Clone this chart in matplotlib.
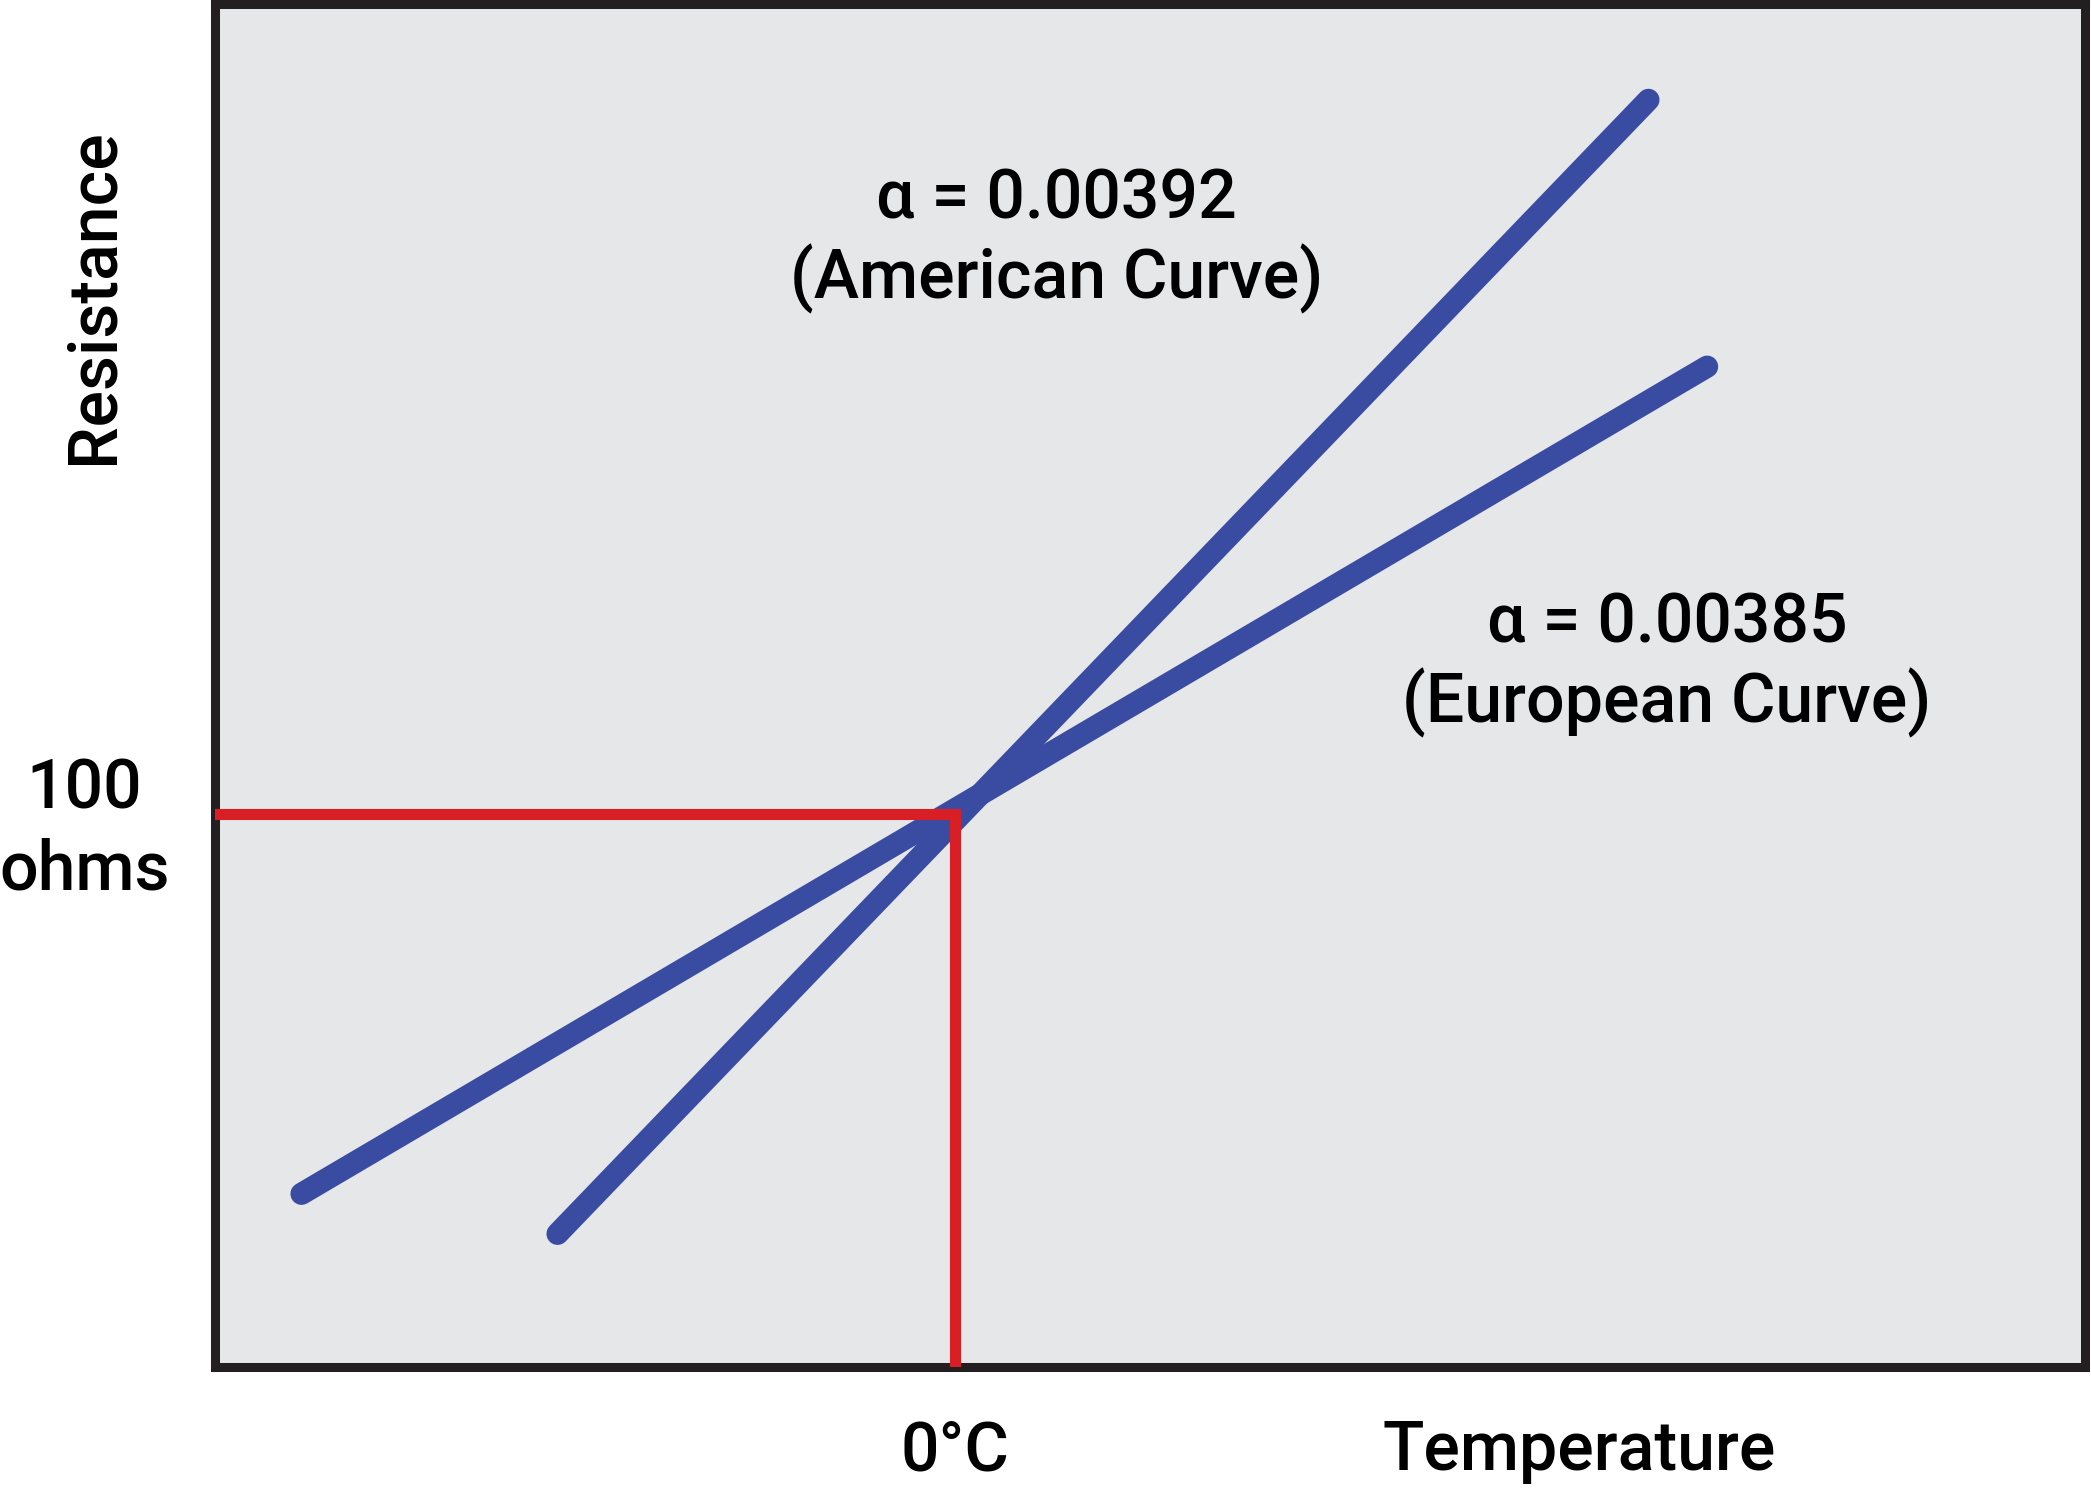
import matplotlib.pyplot as plt
from matplotlib.transforms import blended_transform_factory

# schematic RTD curves (temperature in arbitrary deg C units, resistance in ohms)
temp_american = [-149, 260]
res_american = [37, 207]
temp_european = [-245, 282]
res_european = [43, 167]
temp_ref = 0
res_ref = 100

label_american = "α = 0.00392\n(American Curve)"
label_european = "α = 0.00385\n(European Curve)"

plt.rcParams['font.family'] = ['Roboto', 'DejaVu Sans']

blue = '#3a4ca1'
red = '#d91f26'
frame = '#231f20'
fs = 49
wt = 'medium'

fig = plt.figure(figsize=(20.91, 14.88), dpi=100)
ax = fig.add_axes([0.1026, 0.0816, 0.8943, 0.9154])
ax.set_facecolor('#e6e7e9')
ax.set_xlim(-277.6, 423.5)
ax.set_ylim(17.1, 221.3)

for s in ax.spines.values():
    s.set_color(frame)
    s.set_linewidth(6.5)
ax.set_xticks([])
ax.set_yticks([])

ax.plot(temp_american, res_american, color=blue, lw=16, solid_capstyle='round', zorder=2)
ax.plot(temp_european, res_european, color=blue, lw=16, solid_capstyle='round', zorder=2)

# red reference lines at 0 degC / 100 ohms
xmin = ax.get_xlim()[0]
ymin = ax.get_ylim()[0]
ax.plot([xmin, temp_ref, temp_ref], [res_ref, res_ref, ymin], color=red, lw=8,
        solid_joinstyle='miter', zorder=3)

ax.text(38, 186, label_american, ha='center', va='center', fontsize=fs,
        weight=wt, linespacing=1.2)
ax.text(267, 122.4, label_european, ha='center', va='center', fontsize=fs,
        weight=wt, linespacing=1.2)

# axis labels
trans_x = blended_transform_factory(ax.transData, ax.transAxes)
ax.text(temp_ref, -0.062, "0°C", transform=trans_x, ha='center', va='center',
        fontsize=fs, weight=wt)
ax.text(0.730, -0.062, "Temperature", transform=ax.transAxes, ha='center', va='center',
        fontsize=fs, weight=wt)

ax.annotate("100", xy=(0, res_ref), xycoords=('axes fraction', 'data'),
            xytext=(-130, 24), textcoords='offset pixels', ha='center', va='center',
            fontsize=fs, weight=wt)
ax.annotate("ohms", xy=(0, res_ref), xycoords=('axes fraction', 'data'),
            xytext=(-130, -57), textcoords='offset pixels', ha='center', va='center',
            fontsize=fs, weight=wt)

fig.text(93 / 2091, 1 - 296 / 1488, "Resistance", rotation=90, ha='center', va='center',
         fontsize=fs, weight=wt)

fig.savefig('out.png', dpi=100)
